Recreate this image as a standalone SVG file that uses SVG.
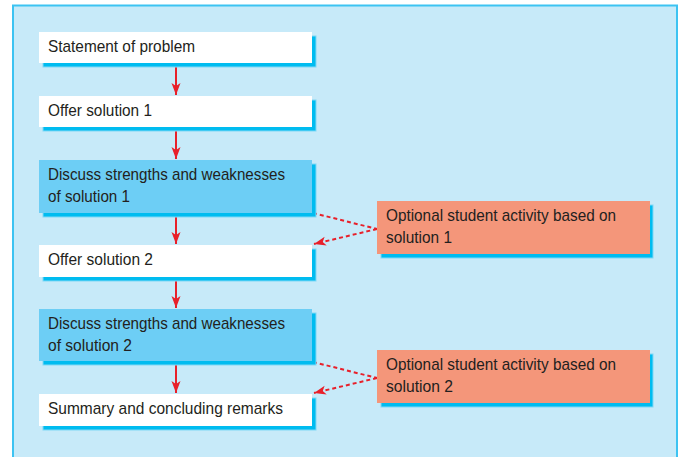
<svg xmlns="http://www.w3.org/2000/svg" width="682" height="457" viewBox="0 0 682 457">
<defs>
<style>
.bg{fill:#c7eaf9;stroke:#3cc3f2;stroke-width:2}
.sh{fill:#00bcf0;stroke:#80d8f6;stroke-width:1}
.w{fill:#ffffff}
.b{fill:#6dcef5}
.o{fill:#f4967a}
text{font-family:"Liberation Sans",Arial,sans-serif;font-size:17px;fill:#231f20}
.flow{stroke:#e8202a;stroke-width:2;fill:none}
.dash{stroke:#e8202a;stroke-width:2;fill:none;stroke-dasharray:4 3}
</style>
<marker id="ah" markerUnits="userSpaceOnUse" markerWidth="13" markerHeight="10" refX="12" refY="4.5" orient="auto">
<path d="M0,0 L12,4.5 L0,9 L3,4.5 z" fill="#e8202a"/>
</marker>
</defs>
<rect class="bg" x="13" y="5.5" width="664" height="470"/>
<g id="connectors">
<line class="flow" x1="176" y1="63" x2="176" y2="95" marker-end="url(#ah)"/>
<line class="flow" x1="176" y1="127" x2="176" y2="159" marker-end="url(#ah)"/>
<line class="flow" x1="176" y1="213" x2="176" y2="244" marker-end="url(#ah)"/>
<line class="flow" x1="176" y1="277" x2="176" y2="308" marker-end="url(#ah)"/>
<line class="flow" x1="176" y1="361" x2="176" y2="393" marker-end="url(#ah)"/>
<line class="dash" x1="313" y1="213" x2="377" y2="229"/>
<line class="dash" x1="377" y1="229" x2="314" y2="244" marker-end="url(#ah)"/>
<line class="dash" x1="313" y1="362" x2="377" y2="378"/>
<line class="dash" x1="377" y1="378" x2="314" y2="393" marker-end="url(#ah)"/>
</g>
<g id="n1">
<rect class="sh" x="43" y="36" width="273" height="31"/>
<rect class="w" x="39" y="32" width="273" height="31"/>
<text x="48" y="52" textLength="147" lengthAdjust="spacingAndGlyphs">Statement of problem</text>
</g>
<g id="n2">
<rect class="sh" x="43" y="100" width="273" height="31"/>
<rect class="w" x="39" y="96" width="273" height="31"/>
<text x="48" y="116" textLength="104" lengthAdjust="spacingAndGlyphs">Offer solution 1</text>
</g>
<g id="n3">
<rect class="sh" x="43" y="164" width="273" height="53"/>
<rect class="b" x="39" y="160" width="273" height="53"/>
<text x="48" y="180" textLength="237" lengthAdjust="spacingAndGlyphs">Discuss strengths and weaknesses</text>
<text x="48" y="202" textLength="82" lengthAdjust="spacingAndGlyphs">of solution 1</text>
</g>
<g id="n4">
<rect class="sh" x="43" y="249" width="273" height="32"/>
<rect class="w" x="39" y="245" width="273" height="32"/>
<text x="48" y="265" textLength="105" lengthAdjust="spacingAndGlyphs">Offer solution 2</text>
</g>
<g id="n5">
<rect class="sh" x="43" y="313" width="273" height="52"/>
<rect class="b" x="39" y="309" width="273" height="52"/>
<text x="48" y="329" textLength="237" lengthAdjust="spacingAndGlyphs">Discuss strengths and weaknesses</text>
<text x="48" y="351" textLength="84" lengthAdjust="spacingAndGlyphs">of solution 2</text>
</g>
<g id="n6">
<rect class="sh" x="43" y="398" width="273" height="32"/>
<rect class="w" x="39" y="394" width="273" height="32"/>
<text x="48" y="414" textLength="235" lengthAdjust="spacingAndGlyphs">Summary and concluding remarks</text>
</g>
<g id="o1">
<rect class="sh" x="381" y="205" width="272" height="53"/>
<rect class="o" x="377" y="201" width="273" height="53"/>
<text x="386" y="221" textLength="230" lengthAdjust="spacingAndGlyphs">Optional student activity based on</text>
<text x="386" y="243" textLength="66" lengthAdjust="spacingAndGlyphs">solution 1</text>
</g>
<g id="o2">
<rect class="sh" x="381" y="354" width="272" height="53"/>
<rect class="o" x="377" y="350" width="273" height="53"/>
<text x="386" y="370" textLength="230" lengthAdjust="spacingAndGlyphs">Optional student activity based on</text>
<text x="386" y="392" textLength="67" lengthAdjust="spacingAndGlyphs">solution 2</text>
</g>
</svg>
